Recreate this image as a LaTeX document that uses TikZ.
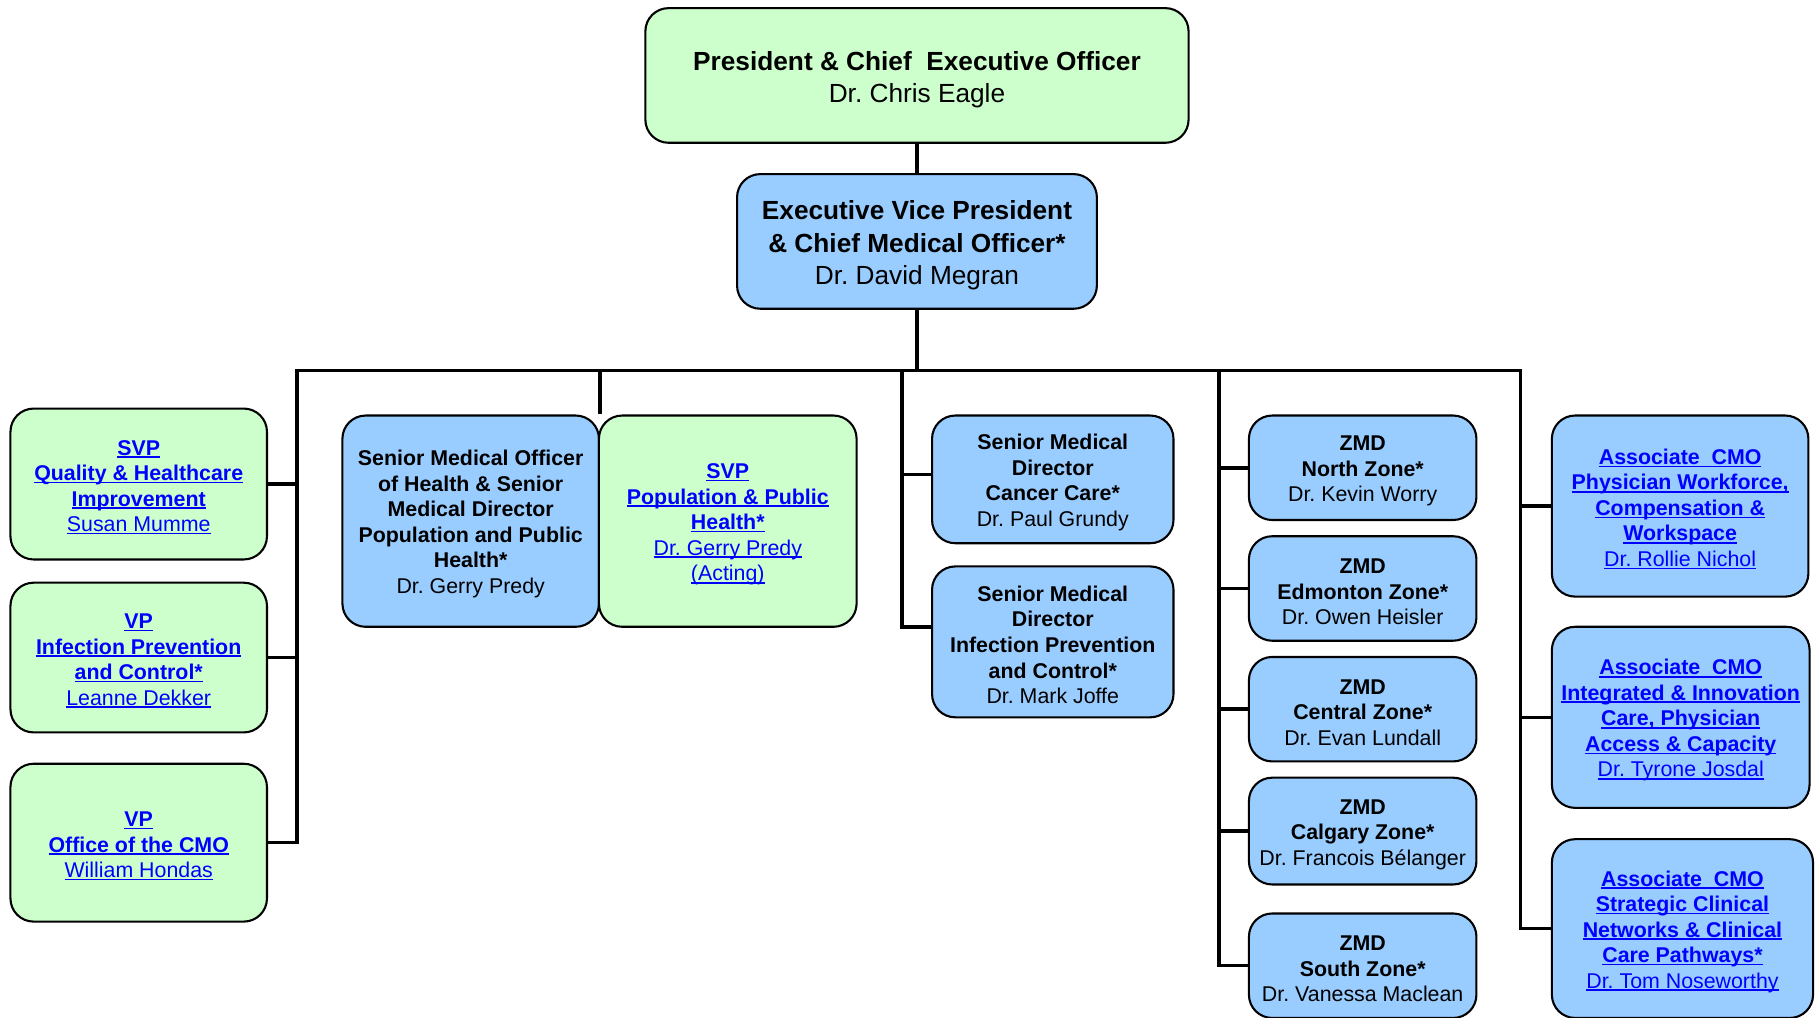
\documentclass[tikz,border=0pt]{standalone}
\usepackage{fontspec}
\setmainfont{Liberation Sans}
\frenchspacing
\definecolor{boxgreen}{HTML}{CCFFCC}
\definecolor{boxblue}{HTML}{99CCFF}
\definecolor{linkblue}{HTML}{0000FF}
\newcommand\lnk[1]{{\color{linkblue}\setbox0\hbox{#1}\rlap{\rule[-2.4pt]{\wd0}{1.4pt}}\box0}}
\newcommand\smallfont{\fontsize{18.4}{22}\selectfont}
\newcommand\bigfont{\fontsize{22.6}{28}\selectfont}
\newcommand\topgap{\rule{0pt}{18.5pt}}
\newcommand\bigtopgap{\rule{0pt}{23.5pt}}
\tikzset{
    orgbox/.style={draw, line width=1.8pt, rounded corners=20pt, inner sep=0pt,
        align=center, font=\smallfont},
    greenbox/.style={orgbox, fill=boxgreen},
    bluebox/.style={orgbox, fill=boxblue},
    boxsize/.style 2 args={minimum width=#1, minimum height=#2},
    conn/.style={line width=3pt},
}
\begin{document}
\begin{tikzpicture}[x=1pt, y=-1pt]
    \useasboundingbox (0,0) rectangle (1568,877);
    %% top
    \node[greenbox, boxsize={468}{116}, font=\bigfont] (ceo) at (790,65)
        {\bigtopgap\textbf{President \& Chief~~Executive Officer}\\Dr. Chris Eagle};
    \node[bluebox, boxsize={310}{116}, font=\bigfont] (evp) at (790,208)
        {\bigtopgap\textbf{Executive Vice President}\\\textbf{\& Chief Medical Officer*}\\Dr. David Megran};
    %% left column
    \node[greenbox, boxsize={221}{130}] (svpq) at (119.5,417)
        {\topgap\lnk{\textbf{SVP}}\\\lnk{\textbf{Quality \& Healthcare}}\\\lnk{\textbf{Improvement}}\\\lnk{Susan Mumme}};
    \node[greenbox, boxsize={221}{129}] (vpipc) at (119.5,566.5)
        {\topgap\lnk{\textbf{VP}}\\\lnk{\textbf{Infection Prevention}}\\\lnk{\textbf{and Control*}}\\\lnk{Leanne Dekker}};
    \node[greenbox, boxsize={221}{136}] (vpo) at (119.5,726)
        {\topgap\lnk{\textbf{VP}}\\\lnk{\textbf{Office of the CMO}}\\\lnk{William Hondas}};
    %% public health pair
    \node[bluebox, boxsize={221}{182}] (smoh) at (405.5,449)
        {\topgap\textbf{Senior Medical Officer}\\\textbf{of Health \& Senior}\\\textbf{Medical Director}\\
         \textbf{Population and Public}\\\textbf{Health*}\\Dr. Gerry Predy};
    \node[greenbox, boxsize={222}{182}] (svpp) at (627,449)
        {\topgap\lnk{\textbf{SVP}}\\\lnk{\textbf{Population \& Public}}\\\lnk{\textbf{Health*}}\\
         \lnk{Dr. Gerry Predy}\\\lnk{(Acting)}};
    %% senior medical directors
    \node[bluebox, boxsize={208}{110}] (smdcc) at (907,413)
        {\topgap\textbf{Senior Medical}\\\textbf{Director}\\\textbf{Cancer Care*}\\Dr. Paul Grundy};
    \node[bluebox, boxsize={208}{130}] (smdipc) at (907,553)
        {\topgap\textbf{Senior Medical}\\\textbf{Director}\\\textbf{Infection Prevention}\\\textbf{and Control*}\\Dr. Mark Joffe};
    %% zone medical directors
    \node[bluebox, boxsize={196}{90}] (znorth) at (1174,403)
        {\topgap\textbf{ZMD}\\\textbf{North Zone*}\\Dr. Kevin Worry};
    \node[bluebox, boxsize={196}{90}] (zedm) at (1174,507)
        {\topgap\textbf{ZMD}\\\textbf{Edmonton Zone*}\\Dr. Owen Heisler};
    \node[bluebox, boxsize={196}{90}] (zcen) at (1174,611)
        {\topgap\textbf{ZMD}\\\textbf{Central Zone*}\\Dr. Evan Lundall};
    \node[bluebox, boxsize={196}{92}] (zcal) at (1174,716)
        {\topgap\textbf{ZMD}\\\textbf{Calgary Zone*}\\Dr. Francois Bélanger};
    \node[bluebox, boxsize={196}{90}] (zsouth) at (1174,832)
        {\topgap\textbf{ZMD}\\\textbf{South Zone*}\\Dr. Vanessa Maclean};
    %% associate CMOs
    \node[bluebox, boxsize={221}{156}] (acmoa) at (1447.5,436)
        {\topgap\lnk{\textbf{Associate~~CMO}}\\\lnk{\textbf{Physician Workforce,}}\\\lnk{\textbf{Compensation \&}}\\
         \lnk{\textbf{Workspace}}\\\lnk{Dr. Rollie Nichol}};
    \node[bluebox, boxsize={222}{156}] (acmob) at (1448,618)
        {\topgap\lnk{\textbf{Associate~~CMO}}\\\lnk{\textbf{Integrated \& Innovation}}\\\lnk{\textbf{Care, Physician}}\\
         \lnk{\textbf{Access \& Capacity}}\\\lnk{Dr. Tyrone Josdal}};
    \node[bluebox, boxsize={225}{154}] (acmoc) at (1449.5,800)
        {\topgap\lnk{\textbf{Associate~~CMO}}\\\lnk{\textbf{Strategic Clinical}}\\\lnk{\textbf{Networks \& Clinical}}\\
         \lnk{\textbf{Care Pathways*}}\\\lnk{Dr. Tom Noseworthy}};
    %% connectors
    \coordinate (busL) at (256,319);
    \coordinate (busR) at (1310,319);
    \coordinate (busC) at (777,319);
    \coordinate (busZ) at (1050,319);
    \draw[conn] (ceo) -- (evp);
    \draw[conn] (evp) -- (evp |- busL);
    \draw[conn] (vpo.east) -| (busL) -- (busR) |- (acmoc.west);
    \foreach \n in {svpq,vpipc} \draw[conn] (busL |- \n.east) -- (\n.east);
    \draw[conn] (smoh.east |- busL) -- (smoh.north east);
    \path ([yshift=4pt]smdcc.west) coordinate (ccin) ([yshift=13pt]smdipc.west) coordinate (ipcin);
    \draw[conn] (busC) |- (ipcin);
    \draw[conn] (busC |- ccin) -- (ccin);
    \draw[conn] (busZ) |- (zsouth.west);
    \foreach \n in {znorth,zedm,zcen,zcal} \draw[conn] (busZ |- \n.west) -- (\n.west);
    \foreach \n in {acmoa,acmob} \draw[conn] (busR |- \n.west) -- (\n.west);
\end{tikzpicture}
\end{document}
